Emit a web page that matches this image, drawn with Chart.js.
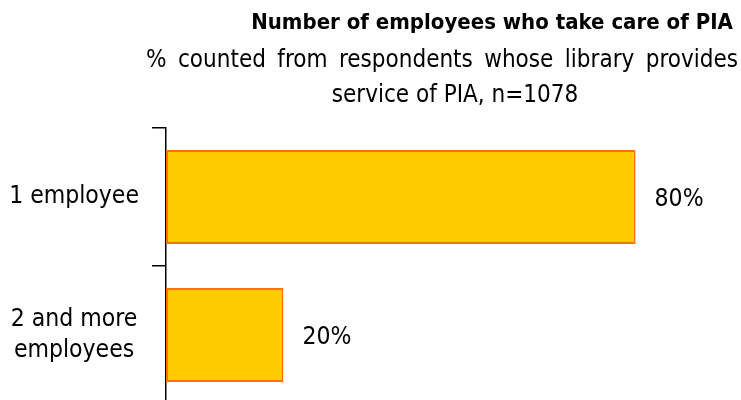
<!DOCTYPE html>
<html>
<head>
<meta charset="utf-8">
<script src="https://cdn.jsdelivr.net/npm/chart.js@4/dist/chart.umd.min.js"></script>
<style>
  html, body { margin: 0; padding: 0; background: #fff; overflow: hidden; width: 741px; height: 400px; }
  canvas { display: block; }
</style>
</head>
<body>
<canvas id="c" width="753" height="404"></canvas>
<script>
// Chart content
const titleText = 'Number of employees who take care of PIA';
const subtitleLines = ['% counted from respondents whose library provides', 'service of PIA, n=1078'];
const categories = ['1 employee', ['2 and more', 'employees']];
const shares = [80, 20];

const FONT = '"DejaVu Sans Condensed", "DejaVu Sans", sans-serif';

// Draws a line of text justified between two x positions
function justify(ctx, text, x0, x1, y) {
  const words = text.split(' ');
  const widths = words.map(w => ctx.measureText(w).width);
  const total = widths.reduce((a, b) => a + b, 0);
  const gap = (x1 - x0 - total) / (words.length - 1);
  let x = x0;
  ctx.textAlign = 'left';
  words.forEach((w, i) => {
    ctx.fillText(w, x, y);
    x += widths[i] + gap;
  });
}

// Headings and value labels drawn on top of the chart
const textPlugin = {
  id: 'texts',
  afterDraw(chart) {
    const ctx = chart.ctx;
    ctx.save();
    ctx.fillStyle = '#000';
    ctx.textBaseline = 'middle';
    ctx.textAlign = 'center';
    ctx.font = 'bold 22px ' + FONT;
    ctx.fillText(titleText, 492, 23);
    ctx.font = '24px ' + FONT;
    justify(ctx, subtitleLines[0], 146, 738, 61);
    ctx.textAlign = 'center';
    ctx.fillText(subtitleLines[1], 455, 96);

    const meta = chart.getDatasetMeta(0);
    ctx.textAlign = 'left';
    ctx.font = '24.5px ' + FONT;
    meta.data.forEach((bar, i) => {
      ctx.fillText(shares[i] + '%', bar.x + 19, bar.y + 3);
    });
    ctx.restore();
  }
};

new Chart(document.getElementById('c'), {
  type: 'bar',
  data: {
    labels: categories,
    datasets: [{
      data: shares,
      backgroundColor: '#FFCC00',
      borderColor: '#FF7300',
      borderWidth: 2,
      borderSkipped: false,
      barPercentage: 0.68,
      categoryPercentage: 1
    }]
  },
  options: {
    indexAxis: 'y',
    responsive: false,
    animation: false,
    layout: { padding: { top: 128, left: 0, right: 0, bottom: 0 } },
    plugins: {
      legend: { display: false },
      tooltip: { enabled: false }
    },
    scales: {
      x: {
        display: false,
        min: 0,
        max: 100
      },
      y: {
        afterFit(axis) {
          axis.width = 166;
          axis.paddingTop = 0;
          axis.paddingBottom = 0;
        },
        border: { display: true, color: '#000', width: 1.5 },
        grid: {
          offset: true,
          drawOnChartArea: false,
          drawTicks: true,
          tickLength: 14,
          color: '#000',
          lineWidth: 1.5
        },
        ticks: {
          color: '#000',
          padding: 13,
          crossAlign: 'center',
          font: { family: FONT, size: 24.5, lineHeight: 1.25 }
        }
      }
    }
  },
  plugins: [textPlugin]
});
</script>
</body>
</html>
